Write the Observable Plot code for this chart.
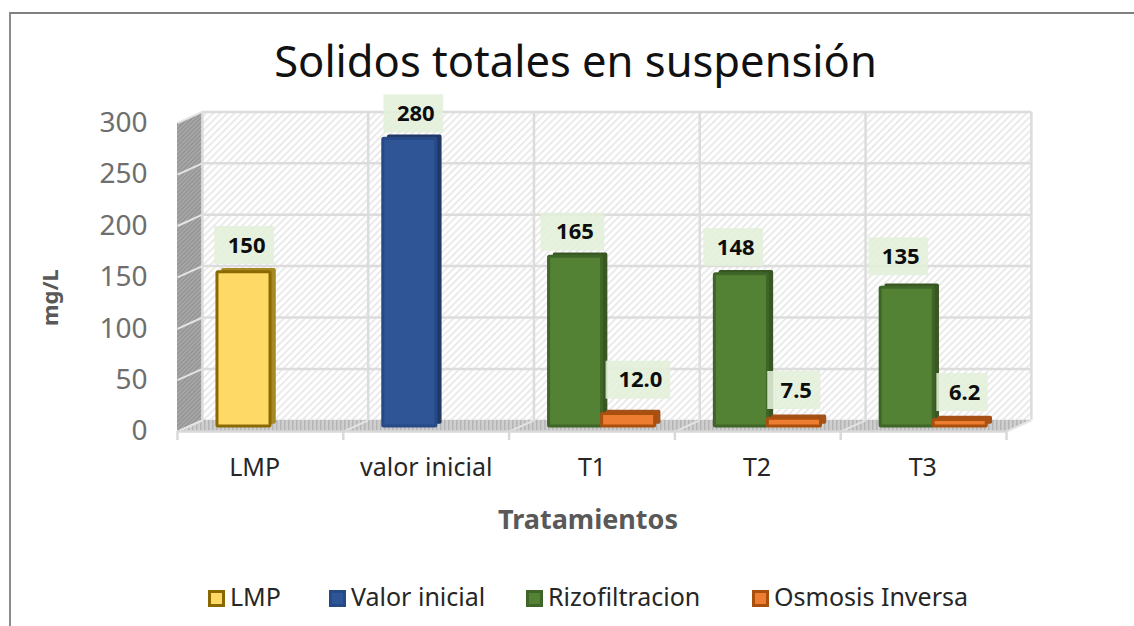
<!DOCTYPE html>
<html lang="es">
<head>
<meta charset="utf-8">
<script src="https://cdn.jsdelivr.net/npm/d3@7"></script>
<script src="https://cdn.jsdelivr.net/npm/@observablehq/plot@0.6"></script>
<style>
  html,body{margin:0;padding:0;background:#fff;width:1134px;height:626px;overflow:hidden}
  #wrap{position:relative;width:1134px;height:626px;font-family:"Noto Sans",sans-serif}
  #frame{position:absolute;left:9px;top:12px;right:0;bottom:0;border-left:2px solid #8c8c8c;border-top:2px solid #808080}
  #title{position:absolute;left:0;width:1151px;top:32px;text-align:center;font-size:43.5px;line-height:56px;color:#111}
  #legend{position:absolute;top:582px;left:0;height:28px;width:1134px;font-size:25px;line-height:28px;color:#262626}
  #legend span.item{position:absolute;top:0;white-space:nowrap}
  #legend i{display:inline-block;width:11px;height:11px;border:3px solid;margin-right:5px;vertical-align:-1px}
  svg{position:absolute;left:0;top:0}
</style>
</head>
<body>
<div id="wrap">
  <div id="frame"></div>
  <div id="title"></div>
  <div id="legend"></div>
</div>
<script>
const chartTitle = "Solidos totales en suspensión";
const yLabel = "mg/L";
const xLabel = "Tratamientos";
const categories = ["LMP", "valor inicial", "T1", "T2", "T3"];
const categoryTicks = [0.465, 1.5, 2.5, 3.495, 4.495];
const yTicks = [0, 50, 100, 150, 200, 250, 300];

const seriesNames = ["LMP", "Valor inicial", "Rizofiltracion", "Osmosis Inversa"];
const lmpValues = [150, null, null, null, null];
const inicialValues = [null, 280, null, null, null];
const rizoValues = [null, null, 165, 148, 135];
const osmosisValues = [null, null, 12.0, 7.5, 6.2];
const valueText = {LMP: d => d.toFixed(0), "Valor inicial": d => d.toFixed(0), Rizofiltracion: d => d.toFixed(0), "Osmosis Inversa": d => d.toFixed(1)};

const fills = ["#ffd966", "#2f5597", "#548235", "#ed7d31"];
const edges = ["#8a6a00", "#264a85", "#3f6528", "#a9500f"];
const sides = ["#a58a24", "#203864", "#385723", "#a5511a"];

// Depth of the fake 3D box, in scale units
const depthX = 0.15, frontY = -5, backY = 6;
const barStart = 0.241, barSpan = 0.32;

// Table built from the arrays above
const rows = [];
[lmpValues, inicialValues, rizoValues, osmosisValues].forEach((vals, s) => {
  vals.forEach((v, i) => {
    if (v == null) return;
    const slot = s === 3 ? 1 : 0;
    rows.push({series: seriesNames[s], s, value: v, x1: i + barStart + slot * barSpan, x2: i + barStart + (slot + 1) * barSpan});
  });
});

// Where each data label sits (chart units), same order as rows:
// 150, 280, 165, 148, 135, 12.0, 7.5, 6.2
const labelX = [0.405, 1.425, 2.385, 3.355, 4.35, 2.78, 3.72, 4.735];
const labelY = [176, 304, 189, 174, 165, 45, 35, 33];
const labelW = [0.36, 0.36, 0.385, 0.36, 0.36, 0.39, 0.32, 0.31];
rows.forEach((r, k) => {
  r.lx = labelX[k]; r.ly = labelY[k]; r.lw = labelW[k];
  r.label = valueText[r.series](r.value);
});

const px = 1.028; // px per value unit, for label box height
const boxH = 19 / px;

const side = [{x: 0, y1: frontY, y2: 300 + frontY}, {x: depthX, y1: backY, y2: 300 + backY}];
const floor = [
  {x: 0, y1: frontY, y2: frontY},
  {x: depthX, y1: frontY, y2: backY},
  {x: 5, y1: frontY, y2: backY},
  {x: 5 + depthX, y1: backY, y2: backY}
];
const idx = d3.range(categories.length + 1);

const gridColor = "#dcdcdc";
const chart = Plot.plot({
  width: 1134, height: 626,
  marginLeft: 177, marginRight: 128, marginTop: 111, marginBottom: 195,
  x: {type: "linear", domain: [0, 5], range: [177, 1006]},
  y: {domain: [-5, 306], range: [431.1, 111.4]},
  style: {background: "transparent", fontFamily: "'Noto Sans',sans-serif", overflow: "visible"},
  marks: [
    // back wall
    Plot.rect([0], {x1: depthX, x2: 5 + depthX, y1: backY, y2: 300 + backY, fill: "url(#wallHatch)"}),
    // side wall, floor
    Plot.areaY(side, {x: "x", y1: "y1", y2: "y2", fill: "url(#sideHatch)"}),
    Plot.areaY(floor, {x: "x", y1: "y1", y2: "y2", fill: "url(#floorHatch)"}),
    // gridlines
    Plot.ruleY(yTicks.slice(1), {y: d => d + backY, x1: depthX, x2: 5 + depthX, stroke: gridColor, strokeWidth: 2.5}),
    Plot.ruleX(idx, {x: d => d + depthX, y1: backY, y2: 300 + backY, stroke: gridColor, strokeWidth: 2.5}),
    Plot.link(yTicks, {x1: 0, x2: depthX, y1: d => d + frontY, y2: d => d + backY, stroke: "#e4e4e4", strokeWidth: 2}),
    Plot.link(idx, {x1: d => d, x2: d => d + depthX, y1: frontY, y2: backY, stroke: "#e4e4e4", strokeWidth: 2}),
    Plot.ruleY([frontY], {x1: 0, x2: 5, stroke: "#d9d9d9", strokeWidth: 2.5}),
    // axes
    Plot.axisX(idx, {anchor: "bottom", tickSize: 9, stroke: "#d9d9d9", strokeWidth: 2.5, tickFormat: () => ""}),
    Plot.axisX(categoryTicks, {anchor: "bottom", tickSize: 0, tickPadding: 27, tickFormat: d => categories[categoryTicks.indexOf(d)], fontSize: 25, fill: "#262626", label: null}),
    Plot.axisY(yTicks, {anchor: "left", tickSize: 0, tickPadding: 30, dy: 5, fontSize: 28, fill: "#6e6e6e", label: null}),
    Plot.text([yLabel], {frameAnchor: "left", textAnchor: "middle", dx: -127, dy: 26, rotate: -90, fontSize: 22, fontWeight: 700, fill: "#595959"}),
    Plot.text([xLabel], {frameAnchor: "bottom", dx: -4, dy: 97, fontSize: 27, fontWeight: 700, fill: "#595959"}),
    // bars: side/top face, then front face
    Plot.rectY(rows, {x1: "x1", x2: "x2", y1: 0, y2: "value", dx: 5, dy: -3, fill: (d) => sides[d.s], stroke: (d) => sides[d.s], strokeWidth: 1.5, r: 1}),
    Plot.rectY(rows, {x1: "x1", x2: "x2", y1: 0, y2: "value", fill: (d) => fills[d.s], stroke: (d) => edges[d.s], strokeWidth: 3, r: 1}),
    // data labels
    Plot.rect(rows, {x1: d => d.lx - d.lw / 2, x2: d => d.lx + d.lw / 2, y1: d => d.ly - boxH, y2: d => d.ly + boxH, fill: "#e2efda", fillOpacity: 0.88}),
    Plot.text(rows, {x: d => d.lx + 0.012, y: "ly", text: "label", fontSize: 22, fontWeight: 700, fill: "#0d0d0d"})
  ]
});

// Hatch patterns referenced by the wall/floor marks
const defs = `<defs>
<pattern id="wallHatch" width="5" height="5" patternUnits="userSpaceOnUse" patternTransform="rotate(45)">
  <rect width="5" height="5" fill="#ffffff"/><rect width="1.6" height="5" fill="#e6e6e6"/></pattern>
<pattern id="sideHatch" width="3" height="3" patternUnits="userSpaceOnUse" patternTransform="rotate(45)">
  <rect width="3" height="3" fill="#a6a6a6"/><rect width="1" height="3" fill="#8f8f8f"/></pattern>
<pattern id="floorHatch" width="4" height="4" patternUnits="userSpaceOnUse">
  <rect width="4" height="4" fill="#cfcfcf"/><rect width="1.5" height="4" fill="#b5b5b5"/></pattern>
</defs>`;
chart.insertAdjacentHTML("afterbegin", defs);
document.getElementById("wrap").appendChild(chart);
document.getElementById("title").textContent = chartTitle;

// Legend
const legend = document.getElementById("legend");
const legendLeft = [208, 329, 526, 752];
seriesNames.forEach((name, i) => {
  const item = document.createElement("span");
  item.className = "item";
  item.style.left = legendLeft[i] + "px";
  const sw = document.createElement("i");
  sw.style.background = fills[i];
  sw.style.borderColor = edges[i];
  item.appendChild(sw);
  item.appendChild(document.createTextNode(name));
  legend.appendChild(item);
});
</script>
</body>
</html>
